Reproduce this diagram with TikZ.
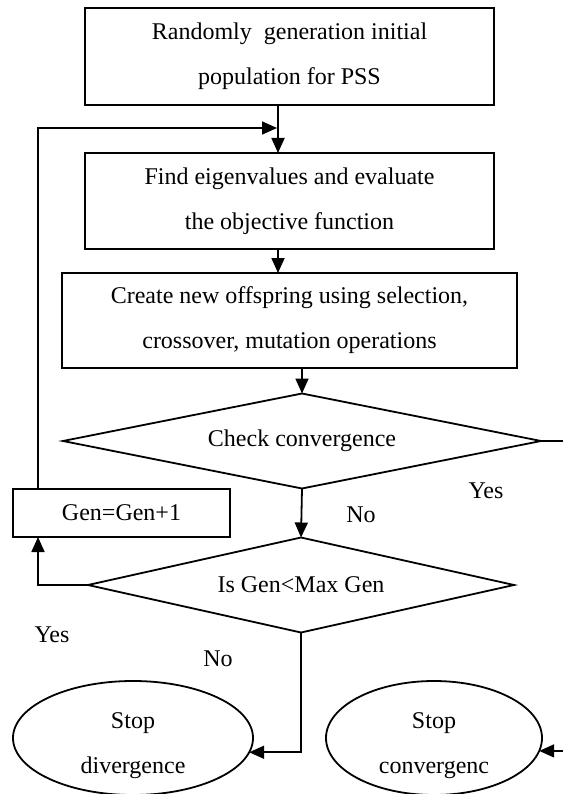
\documentclass[tikz,border=0pt]{standalone}
\usepackage{fontspec}
\setmainfont{Liberation Serif}
\usetikzlibrary{shapes.geometric,arrows.meta}
\begin{document}
\begin{tikzpicture}[x=1pt,y=-1pt,
  every node/.style={font=\fontsize{24}{45}\selectfont, inner sep=0pt, outer sep=0pt},
  procbox/.style={draw, line width=1.8pt, rectangle, align=center},
  decide/.style={draw, line width=1.8pt, diamond, aspect=5},
  term/.style={draw, line width=1.8pt, ellipse},
  conn/.style={line width=1.8pt, -{Triangle[length=15pt,width=13pt]}},
  txt/.style={align=center}]
\useasboundingbox (0,0) rectangle (562,794);

\node[procbox, minimum width=409pt, minimum height=97pt] (b1) at (289.5,56.5)
  {Randomly\ \ generation initial\\population for PSS};
\node[procbox, minimum width=409pt, minimum height=96pt] (b2) at (289.5,201)
  {Find eigenvalues and evaluate\\the objective function};
\node[procbox, minimum width=455pt, minimum height=95pt] (b3) at (289.5,320.5)
  {Create new offspring using selection,\\crossover, mutation operations};
\node[decide, minimum width=478pt, minimum height=95pt] (d1) at (302,441) {Check convergence};
\node[procbox, minimum width=217pt, minimum height=48pt] (gen) at (121.5,513) {Gen=Gen+1};
\node[decide, minimum width=426pt, minimum height=95pt] (d2) at (301,585) {Is Gen<Max Gen};
\node[term, minimum width=240pt, minimum height=114pt] (e1) at (133,738) {};
\node[term, minimum width=216pt, minimum height=114pt] (e2) at (434,738) {};
\node[txt] (e1t) at (133,746) {Stop\\divergence};
\node[txt] (e2t) at (434,746) {Stop\\convergenc};

\node (yes1) at (486,491) {Yes};
\node (no1) at (361,515) {No};
\node (yes2) at (52,635) {Yes};
\node (no2) at (218,659) {No};

\coordinate (ax) at (278,0);
\coordinate (fb) at (38,128);
\coordinate (rx) at (575,0);

\draw[conn] (b1.south -| ax) -- (b2.north -| ax);
\draw[conn] (gen.north -| fb) -- (fb) -- ([xshift=-1pt]fb -| ax);
\draw[conn] (b2.south -| ax) -- (b3.north -| ax);
\draw[conn] (b3.south -| d1.north) -- (d1.north);
\draw[conn] (d1.south) -- (d2.north);
\draw[conn] (d2.west) -- (d2.west -| fb) -- (gen.south -| fb);
\draw[conn] (d2.south) |- (e1.-7.4);
\draw[conn] (d1.east) -- (d1.east -| rx) |- (e2.-7.4);
\end{tikzpicture}
\end{document}
